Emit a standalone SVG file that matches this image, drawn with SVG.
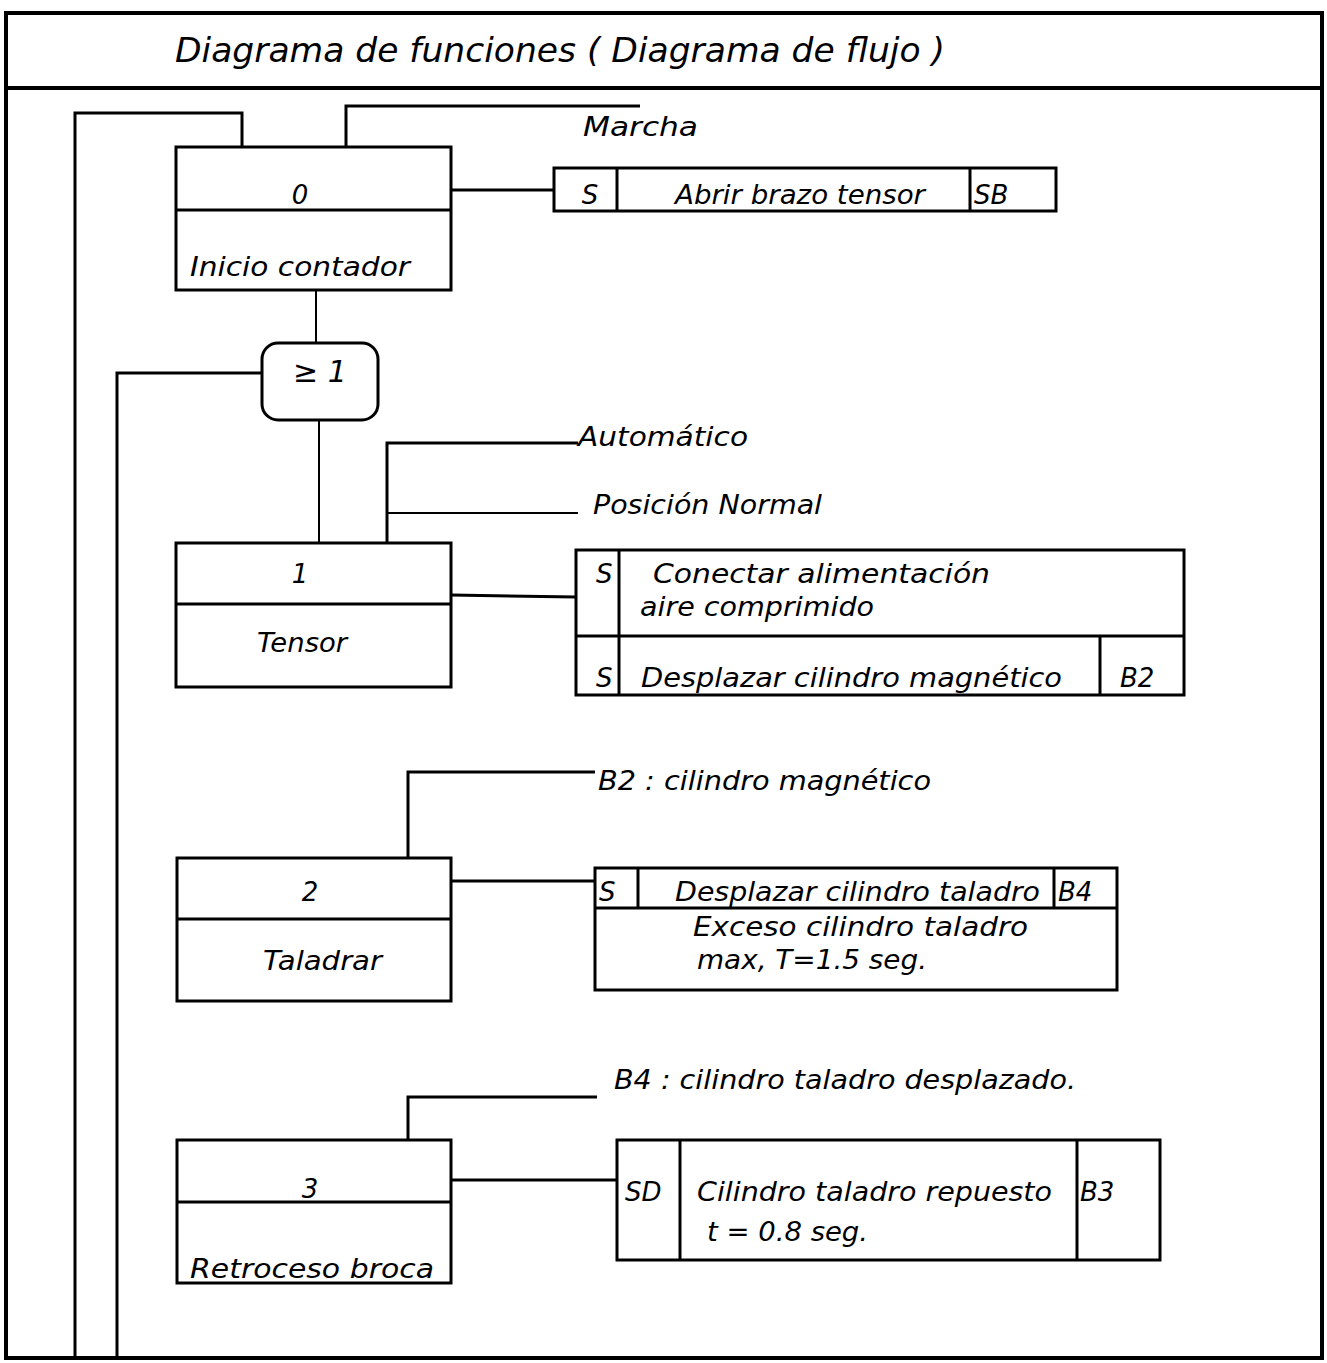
<svg xmlns="http://www.w3.org/2000/svg" width="1327" height="1363" viewBox="0 0 1327 1363">
<style>
.frame{fill:none;stroke:#000;stroke-width:4}
.box{fill:#fff;stroke:#000;stroke-width:3}
.ln{fill:none;stroke:#000;stroke-width:3}
.thin{fill:none;stroke:#000;stroke-width:2}
text{font-family:"DejaVu Sans","Liberation Sans",sans-serif;font-style:italic;fill:#000;font-size:26px}
.title{font-size:34px}
.c{text-anchor:middle}
</style>
<rect width="1327" height="1363" fill="#fff"/>
<g id="frame">
<rect class="frame" x="6" y="13" width="1316" height="1345"/>
<line class="frame" x1="6" y1="88" x2="1322" y2="88"/>
<text class="title" x="175" y="62" textLength="770" lengthAdjust="spacingAndGlyphs">Diagrama de funciones ( Diagrama de flujo )</text>
</g>
<g id="connectors">
<polyline class="ln" points="75,1358 75,113 242,113 242,147"/>
<polyline class="ln" points="346,147 346,106 640,106"/>
<polyline class="ln" points="451,190 554,190"/>
<line class="thin" x1="316" y1="290" x2="316" y2="343"/>
<polyline class="ln" points="117,1358 117,373 262,373"/>
<line class="thin" x1="319" y1="420" x2="319" y2="543"/>
<polyline class="ln" points="387,543 387,443 578,443"/>
<line class="thin" x1="387" y1="513" x2="578" y2="513"/>
<polyline class="ln" points="451,595 576,597"/>
<polyline class="ln" points="408,858 408,772 595,772"/>
<polyline class="ln" points="451,881 595,881"/>
<polyline class="ln" points="408,1140 408,1097 597,1097"/>
<polyline class="ln" points="451,1180 617,1180"/>
</g>
<g id="marcha"><text x="583" y="136" textLength="115" lengthAdjust="spacingAndGlyphs">Marcha</text></g>
<g id="step0">
<rect class="box" x="176" y="147" width="275" height="143"/>
<line class="box" x1="176" y1="210" x2="451" y2="210"/>
<text class="c" x="300" y="204">0</text>
<text x="190" y="276" textLength="220" lengthAdjust="spacingAndGlyphs">Inicio contador</text>
</g>
<g id="action0">
<rect class="box" x="554" y="168" width="502" height="43"/>
<line class="box" x1="617" y1="168" x2="617" y2="211"/>
<line class="box" x1="970" y1="168" x2="970" y2="211"/>
<text class="c" x="590" y="204">S</text>
<text x="675" y="204" textLength="250" lengthAdjust="spacingAndGlyphs">Abrir brazo tensor</text>
<text x="974" y="204">SB</text>
</g>
<g id="or">
<rect class="box" x="262" y="343" width="116" height="77" rx="16"/>
<text class="c" x="320" y="382" style="font-size:30px">≥ 1</text>
</g>
<g id="labels1">
<text x="578" y="446" textLength="170" lengthAdjust="spacingAndGlyphs">Automático</text>
<text x="593" y="514" textLength="229" lengthAdjust="spacingAndGlyphs">Posición Normal</text>
</g>
<g id="step1">
<rect class="box" x="176" y="543" width="275" height="144"/>
<line class="box" x1="176" y1="604" x2="451" y2="604"/>
<text class="c" x="300" y="583">1</text>
<text x="257" y="652" textLength="90" lengthAdjust="spacingAndGlyphs">Tensor</text>
</g>
<g id="action1">
<rect class="box" x="576" y="550" width="608" height="145"/>
<line class="box" x1="576" y1="636" x2="1184" y2="636"/>
<line class="box" x1="619" y1="550" x2="619" y2="695"/>
<line class="box" x1="1100" y1="636" x2="1100" y2="695"/>
<text x="596" y="583">S</text>
<text x="653" y="583" textLength="337" lengthAdjust="spacingAndGlyphs">Conectar alimentación</text>
<text x="640" y="616" textLength="234" lengthAdjust="spacingAndGlyphs">aire comprimido</text>
<text x="596" y="687">S</text>
<text x="641" y="687" textLength="421" lengthAdjust="spacingAndGlyphs">Desplazar cilindro magnético</text>
<text x="1120" y="687">B2</text>
</g>
<g id="label2"><text x="598" y="790" textLength="333" lengthAdjust="spacingAndGlyphs">B2 : cilindro magnético</text></g>
<g id="step2">
<rect class="box" x="177" y="858" width="274" height="143"/>
<line class="box" x1="177" y1="919" x2="451" y2="919"/>
<text class="c" x="310" y="901">2</text>
<text x="263" y="970" textLength="119" lengthAdjust="spacingAndGlyphs">Taladrar</text>
</g>
<g id="action2">
<rect class="box" x="595" y="868" width="522" height="122"/>
<line class="box" x1="595" y1="908" x2="1117" y2="908"/>
<line class="box" x1="638" y1="868" x2="638" y2="908"/>
<line class="box" x1="1054" y1="868" x2="1054" y2="908"/>
<text x="599" y="901">S</text>
<text x="675" y="901" textLength="365" lengthAdjust="spacingAndGlyphs">Desplazar cilindro taladro</text>
<text x="1058" y="901">B4</text>
<text x="693" y="936" textLength="335" lengthAdjust="spacingAndGlyphs">Exceso  cilindro taladro</text>
<text x="697" y="969" textLength="230" lengthAdjust="spacingAndGlyphs">max, T=1.5 seg.</text>
</g>
<g id="label3"><text x="614" y="1089" textLength="462" lengthAdjust="spacingAndGlyphs">B4 : cilindro taladro desplazado.</text></g>
<g id="step3">
<rect class="box" x="177" y="1140" width="274" height="143"/>
<line class="box" x1="177" y1="1202" x2="451" y2="1202"/>
<text class="c" x="310" y="1198">3</text>
<text x="190" y="1278" textLength="244" lengthAdjust="spacingAndGlyphs">Retroceso broca</text>
</g>
<g id="action3">
<rect class="box" x="617" y="1140" width="543" height="120"/>
<line class="box" x1="680" y1="1140" x2="680" y2="1260"/>
<line class="box" x1="1077" y1="1140" x2="1077" y2="1260"/>
<text x="625" y="1201">SD</text>
<text x="697" y="1201" textLength="355" lengthAdjust="spacingAndGlyphs">Cilindro taladro repuesto</text>
<text x="1080" y="1201">B3</text>
<text x="707" y="1241" textLength="161" lengthAdjust="spacingAndGlyphs">t = 0.8  seg.</text>
</g>
</svg>
